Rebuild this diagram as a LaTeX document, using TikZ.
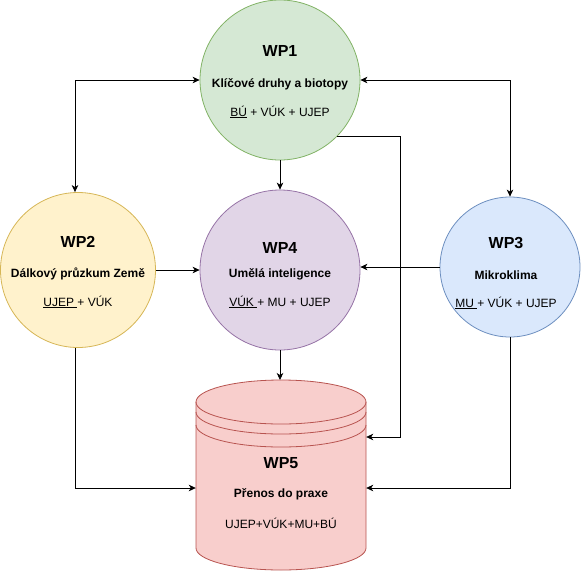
\documentclass[tikz,border=0pt]{standalone}
\usepackage{fontspec}
\setmainfont{Liberation Sans}
\usetikzlibrary{arrows.meta,positioning,calc}
\usepackage{xcolor}
\definecolor{greenfill}{HTML}{D5E8D4}
\definecolor{greenline}{HTML}{82B366}
\definecolor{yellowfill}{HTML}{FFF2CC}
\definecolor{yellowline}{HTML}{D6B656}
\definecolor{bluefill}{HTML}{DAE8FC}
\definecolor{blueline}{HTML}{6C8EBF}
\definecolor{purplefill}{HTML}{E1D5E7}
\definecolor{purpleline}{HTML}{9673A6}
\definecolor{redfill}{HTML}{F8CECC}
\definecolor{redline}{HTML}{B85450}
\tikzset{
  wpcircle/.style={circle, line width=0.8pt, inner sep=0pt},
  wpgreen/.style={wpcircle, draw=greenline, fill=greenfill},
  wpyellow/.style={wpcircle, draw=yellowline, fill=yellowfill},
  wpblue/.style={wpcircle, draw=blueline, fill=bluefill},
  wppurple/.style={wpcircle, draw=purpleline, fill=purplefill},
  wptitle/.style={font=\fontsize{16}{18}\selectfont\bfseries, inner sep=0pt},
  wpname/.style={font=\fontsize{12}{14}\selectfont\bfseries, inner sep=0pt},
  wpteam/.style={font=\fontsize{12}{14}\selectfont, inner sep=0pt},
  cylline/.style={redline, line width=0.8pt},
  arrow/.style={-{Stealth[length=7pt,width=6.5pt,inset=2pt]}, line width=0.8pt},
  dblarrow/.style={{Stealth[length=7pt,width=6.5pt,inset=2pt]}-{Stealth[length=7pt,width=6.5pt,inset=2pt]}, line width=0.8pt}
}

\begin{document}
\begin{tikzpicture}[x=1pt, y=-1pt]
  \useasboundingbox (0,0) rectangle (581,571);
  % WP5 cylinder
  \fill[redfill] (196,402) -- (196,548) arc[start angle=180, end angle=0, x radius=85, y radius=22]
    -- (366,402) -- cycle;
  \filldraw[cylline, fill=redfill] (281,402) ellipse[x radius=85, y radius=22];
  \draw[cylline] (196,402) -- (196,548)
    arc[start angle=180, end angle=0, x radius=85, y radius=22] -- (366,402);
  \draw[cylline] (196,412) arc[start angle=180, end angle=0, x radius=85, y radius=22];
  \draw[cylline] (196,425) arc[start angle=180, end angle=0, x radius=85, y radius=22];
  \node[minimum width=170pt, minimum height=190pt, inner sep=0pt] (wp5) at (281,475) {};
  \node[wptitle] (wp5t) at (281,463) {WP5};
  \node[wpname] (wp5n) at (281,494) {Přenos do praxe};
  \node[wpteam] (wp5p) at (281,523) {UJEP+VÚK+MU+BÚ};

  \node[wpgreen, minimum size=160pt] (wp1) at (280,80) {};
  \node[wptitle] (wp1t) at (280,51) {WP1};
  \node[wpname] (wp1n) at (280,84) {Klíčové druhy a biotopy};
  \node[wpteam] (wp1p) at (280,112) {\underline{BÚ} + VÚK + UJEP};

  \node[wpyellow, minimum size=155pt] (wp2) at (78,270) {};
  \node[wptitle] (wp2t) at (78,242) {WP2};
  \node[wpname] (wp2n) at (78,274) {Dálkový průzkum Země};
  \node[wpteam] (wp2p) at (78,302) {\underline{UJEP\ }+ VÚK};

  \node[wppurple, minimum size=160pt] (wp4) at (280,270) {};
  \node[wptitle] (wp4t) at (280,248) {WP4};
  \node[wpname] (wp4n) at (280,274) {Umělá inteligence};
  \node[wpteam] (wp4p) at (280,302) {\underline{VÚK\ }+ MU + UJEP};

  \node[wpblue, minimum size=140pt] (wp3) at (510,267) {};
  \node[wptitle] (wp3t) at (506,243) {WP3};
  \node[wpname] (wp3n) at (506,275) {Mikroklima};
  \node[wpteam] (wp3p) at (506,303) {\underline{MU\ }+ VÚK + UJEP};

  % connectors
  \coordinate (c12) at (75,80);
  \coordinate (c13) at (510,80);
  \coordinate (c15) at (400,437);
  \coordinate (c25) at (75,488);
  \coordinate (c35) at (510,488);
  \draw[dblarrow] (wp1.west) -- (c12) -- (c12 |- wp2.north);
  \draw[dblarrow] (wp1.east) -- (c13) -- (wp3.north);
  \draw[arrow] (wp1.south) -- (wp4.north);
  \draw[arrow] (wp4.south) -- (wp4.south |- 0,380);
  \draw[arrow] (wp2.east) -- (wp2.east -| wp4.west);
  \draw[arrow] (wp3.west) -- (wp3.west -| wp4.east);
  \draw[arrow] (wp1.-45) -| (c15) -- (c15 -| wp5.east);
  \draw[arrow] (c25 |- wp2.south) -- (c25) -- (c25 -| wp5.west);
  \draw[arrow] (wp3.south) -- (c35) -- (c35 -| wp5.east);
\end{tikzpicture}
\end{document}
